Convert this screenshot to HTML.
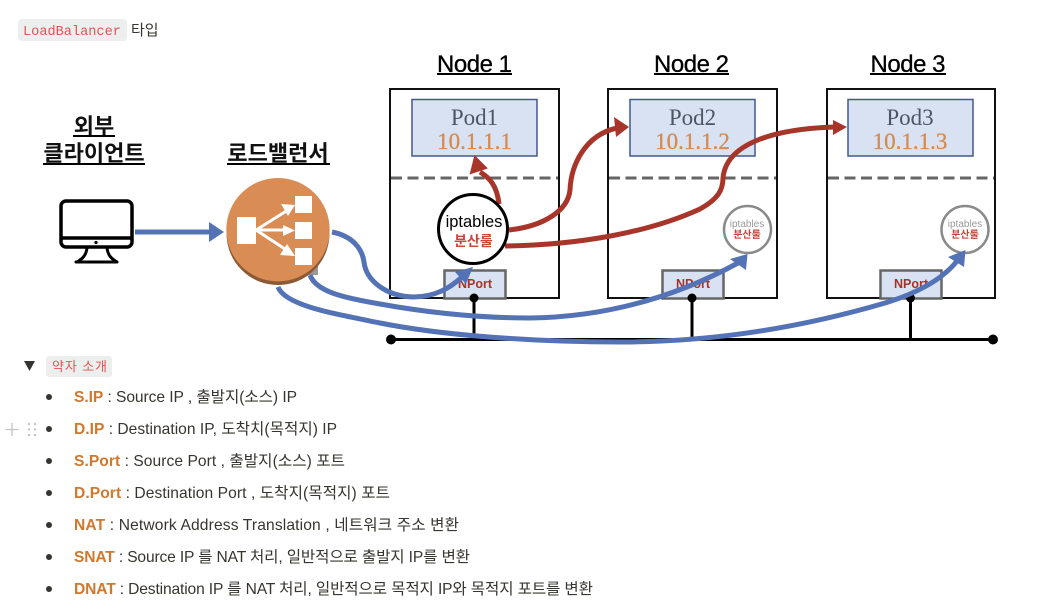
<!DOCTYPE html>
<html lang="ko"><head><meta charset="utf-8">
<style>
html,body{margin:0;padding:0;background:#fff;width:1038px;height:616px;overflow:hidden}
svg{display:block}
text{font-family:"Liberation Sans","Noto Sans CJK KR",sans-serif}
.d{filter:blur(.35px)}
.li{font-size:15.6px;fill:#37352f}
.o{font-weight:bold;fill:#d0782e}
.h{font-size:24px;fill:#000;stroke:#000;stroke-width:.3px;text-anchor:middle}
.k{font-size:22px;font-weight:bold;fill:#111;text-anchor:middle}
.p{font-family:"Liberation Serif","Noto Serif CJK SC",serif;font-size:23px;fill:#4d5563;text-anchor:middle}
.ip{font-family:"Liberation Serif",serif;font-size:23px;fill:#d58a50;stroke:#d58a50;stroke-width:.3px;text-anchor:middle}
.np{font-size:12.5px;font-weight:bold;fill:#a5332c;text-anchor:middle}
</style></head><body>
<svg width="1038" height="616" viewBox="0 0 1038 616" xmlns="http://www.w3.org/2000/svg">
<rect x="18" y="19" width="109" height="22" rx="4" fill="#edeeee"/>
<text x="23" y="35" style="font-family:'Liberation Mono',monospace;font-size:13.6px" fill="#e05555">LoadBalancer</text>
<text x="131" y="35" font-size="15" fill="#37352f">타입</text>

<g class="d">
<text class="h" x="474.5" y="72" textLength="75">Node 1</text><rect x="437" y="73" width="75" height="2" fill="#000"/>
<text class="h" x="691.5" y="72" textLength="75">Node 2</text><rect x="654" y="73" width="75" height="2" fill="#000"/>
<text class="h" x="908" y="72" textLength="75">Node 3</text><rect x="870" y="73" width="76" height="2" fill="#000"/>
<text class="k" x="94" y="134">외부</text><rect x="73" y="135" width="42" height="2" fill="#000"/>
<text class="k" x="94" y="161">클라이언트</text><rect x="43" y="163" width="102" height="2" fill="#000"/>
<text class="k" x="278" y="161">로드밸런서</text><rect x="227" y="163" width="103" height="2" fill="#000"/>

<!-- monitor -->
<g fill="none" stroke="#000" stroke-width="3.5">
<rect x="61" y="201" width="71" height="46" rx="5"/>
<path d="M61 238H132"/>
<path d="M87 248C86 256 82 259 77 262M107 248C108 256 112 259 117 262" stroke-width="3"/>
<path d="M76 262H117" stroke-width="3" stroke-linecap="round"/>
</g>
<circle cx="96" cy="242.5" r="1.6" fill="#000"/>
<path d="M135 232H210" stroke="#5472b6" stroke-width="5" fill="none"/>
<path d="M209 222L224 232L209 242Z" fill="#5472b6"/>

<!-- nodes -->
<g fill="#fff" stroke="#111" stroke-width="2">
<rect x="390" y="89" width="169" height="209"/>
<rect x="608" y="89" width="169" height="209"/>
<rect x="827" y="89" width="168" height="209"/>
</g>
<g fill="#d9e2f2" stroke="#41598b" stroke-width="1.5">
<rect x="412" y="99.5" width="125" height="56.5"/>
<rect x="630" y="99.5" width="125" height="56.5"/>
<rect x="848" y="99.5" width="125" height="56.5"/>
</g>
<text class="p" x="474.5" y="125">Pod1</text><text class="ip" x="474.5" y="149">10.1.1.1</text>
<text class="p" x="692.5" y="125">Pod2</text><text class="ip" x="692.5" y="149">10.1.1.2</text>
<text class="p" x="910" y="125">Pod3</text><text class="ip" x="910" y="149">10.1.1.3</text>
<g stroke="#666" stroke-width="3" stroke-dasharray="11 5.5">
<path d="M391 178H558M609 178H776M828 178H994"/>
</g>

<!-- bus -->
<path d="M391 339.5H993M474 298V339M692 298V339M910.5 298V339" stroke="#000" stroke-width="3" fill="none"/>
<circle cx="391" cy="339.5" r="5" fill="#000"/><circle cx="993" cy="339.5" r="5" fill="#000"/>

<!-- nport -->
<g fill="#d9e2f2" stroke="#666" stroke-width="2.5">
<rect x="444.5" y="270.5" width="61" height="28"/>
<rect x="662.5" y="270.5" width="61" height="28"/>
<rect x="880.5" y="270.5" width="61" height="28"/>
</g>
<text class="np" x="475" y="288" textLength="34">NPort</text><text class="np" x="693" y="288" textLength="34">NPort</text><text class="np" x="911" y="288" textLength="34">NPort</text>
<circle cx="474" cy="298" r="4.5" fill="#000"/><circle cx="692" cy="298" r="4.5" fill="#000"/><circle cx="910.5" cy="298" r="4.5" fill="#000"/>

<!-- red -->
<g fill="none" stroke="#a8352a" stroke-width="5">
<path d="M499 204C497 186 490 178 480 172"/>
<path d="M509 230C545 226 568 210 570 190C571 165 585 135 617 128"/>
<path d="M505 246C580 245 650 232 700 209C718 199 723 190 723 178C726 145 770 129 835 127"/>
</g>
<path d="M475 157L486 168L471 173Z" stroke="#a8352a" stroke-width="2" fill="#a8352a"/>
<path d="M629 127L614 117L616 137Z" fill="#a8352a"/>
<path d="M847 127L833 120L833 135Z" fill="#a8352a"/>

<!-- iptables circles -->
<circle cx="473" cy="229" r="34.5" fill="#fff" stroke="#000" stroke-width="3"/>
<text x="474" y="227" font-size="16.5" fill="#000" text-anchor="middle">iptables</text>
<text x="473.5" y="246" font-size="14" font-weight="bold" fill="#c9473c" text-anchor="middle">분산룰</text>
<g fill="#fff" stroke="#8a8a8a" stroke-width="2.5">
<circle cx="747.5" cy="229.5" r="23.5"/><circle cx="965" cy="229.5" r="23.5"/>
</g>
<g text-anchor="middle">
<text x="747" y="227" font-size="10" fill="#999">iptables</text><text x="747" y="238" font-size="10" font-weight="bold" fill="#c9473c">분산룰</text>
<text x="965" y="227" font-size="10" fill="#999">iptables</text><text x="965" y="238" font-size="10" font-weight="bold" fill="#c9473c">분산룰</text>
</g>

<!-- LB -->
<rect x="308" y="265" width="10" height="10" fill="#999"/>
<circle cx="278" cy="233.5" r="51.5" fill="#8b5a35"/>
<circle cx="278" cy="229.7" r="51.7" fill="#d98d55"/>
<g fill="#fff">
<rect x="237" y="217" width="19" height="27"/>
<rect x="295" y="196" width="17" height="17"/><rect x="295" y="222" width="17" height="17"/><rect x="295" y="248" width="17" height="17"/>
</g>
<g stroke="#fff" stroke-width="3" fill="none"><path d="M256 230L288 210M256 230H288M256 230L288 251"/></g>
<g fill="#fff"><path d="M295 205L281 204L288 216Z"/><path d="M295 230.5L283 225V236Z"/><path d="M295 256L287 244L280 255Z"/></g>

<!-- blue -->
<g fill="none" stroke="#5472b6" stroke-width="5">
<path d="M332 232C352 236 362 248 364 262C366 280 385 296 413 297C435 297 450 288 462 277"/>
<path d="M310 275C316 292 345 298 380 304C430 313 480 318 530 318C600 317 670 300 738 263"/>
<path d="M278 287C285 305 330 313 380 323C440 335 530 342 620 342C720 342 810 325 885 303C915 294 942 280 957 261"/>
</g>
<path d="M473 267L455 272L466 284Z" fill="#5472b6"/>
<path d="M747.5 254L730 259L746 270Z" fill="#5472b6"/>
<path d="M965.5 250L948 257L964 267Z" fill="#5472b6"/>
</g>

<!-- list -->
<path d="M24 361H35L29.5 371Z" fill="#37352f"/>
<rect x="46" y="356" width="66" height="21" rx="3" fill="#edeeee"/>
<text x="52" y="371" font-size="13" fill="#e05555" textLength="55">약자 소개</text>
<g fill="#37352f">
<circle cx="49" cy="397" r="3"/><circle cx="49" cy="429" r="3"/><circle cx="49" cy="461" r="3"/><circle cx="49" cy="493" r="3"/><circle cx="49" cy="525" r="3"/><circle cx="49" cy="557" r="3"/><circle cx="49" cy="589" r="3"/>
</g>
<path d="M12 423V436M5.5 429.5H18.5" stroke="#c4c4c2" stroke-width="1.3"/>
<g fill="#c4c4c2"><circle cx="29" cy="424" r="1.2"/><circle cx="35" cy="424" r="1.2"/><circle cx="29" cy="429.5" r="1.2"/><circle cx="35" cy="429.5" r="1.2"/><circle cx="29" cy="435" r="1.2"/><circle cx="35" cy="435" r="1.2"/></g>
<text class="li" x="74" y="402" textLength="223"><tspan class="o">S.IP</tspan> : Source IP , 출발지(소스) IP</text>
<text class="li" x="74" y="434" textLength="263"><tspan class="o">D.IP</tspan> : Destination IP, 도착치(목적지) IP</text>
<text class="li" x="74" y="466" textLength="271"><tspan class="o">S.Port</tspan> : Source Port , 출발지(소스) 포트</text>
<text class="li" x="74" y="498" textLength="316"><tspan class="o">D.Port</tspan> : Destination Port , 도착지(목적지) 포트</text>
<text class="li" x="74" y="530" textLength="385"><tspan class="o">NAT</tspan> : Network Address Translation , 네트워크 주소 변환</text>
<text class="li" x="74" y="562" textLength="396"><tspan class="o">SNAT</tspan> : Source IP 를 NAT 처리, 일반적으로 출발지 IP를 변환</text>
<text class="li" x="74" y="594" textLength="519"><tspan class="o">DNAT</tspan> : Destination IP 를 NAT 처리, 일반적으로 목적지 IP와 목적지 포트를 변환</text>
</svg>
</body></html>
